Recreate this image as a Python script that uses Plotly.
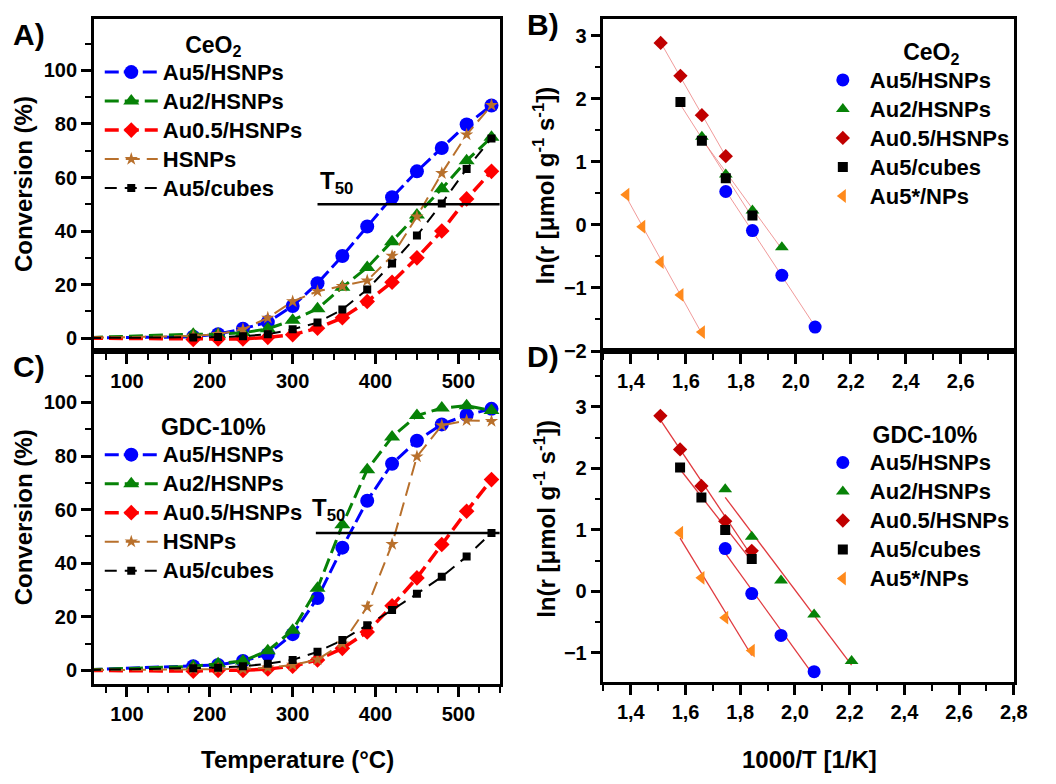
import numpy as np
import plotly.graph_objects as go

W, H = 1056, 784

# ---------------- data ----------------
temps = [30, 180, 210, 240, 270, 300, 330, 360, 390, 420, 450, 480, 510, 540]

au5_ceo2 = [0, 0.5, 1.5, 3.5, 6, 12, 20.5, 30.7, 41.7, 52.6, 62.3, 71, 79.8, 86.9]
au2_ceo2 = [0, 1.5, 1.5, 2, 3.5, 6.7, 11, 19, 26.4, 36, 46, 55.8, 66.3, 75]
au05_ceo2 = [0, -0.5, -0.3, -0.3, 0.3, 1.3, 3.7, 7.6, 13.7, 20.9, 30, 40, 52, 62.3]
hsnps_ceo2 = [0, 0.8, 1.5, 3.3, 7.6, 13.7, 17.5, 19.4, 21.5, 30.7, 45.4, 61.6, 76, 87]
cubes_ceo2 = [0, 0.2, 0.4, 0.7, 1.5, 3.3, 5.8, 10.7, 18.2, 27.9, 38.3, 50.3, 63.2, 74.6]

au5_gdc = [0, 1.5, 2, 3.5, 6, 13.5, 27, 45.8, 63.3, 77.1, 85.7, 91.8, 95.3, 97.6]
au2_gdc = [0, 1.5, 2.5, 3.5, 7.3, 15, 30.6, 54.3, 74.9, 87.1, 95.1, 97.9, 98.8, 97]
au05_gdc = [0, -0.3, 0, 0, 0.5, 1.5, 3.9, 8.2, 14.3, 24.1, 34.5, 47, 59.4, 71.2]
hsnps_gdc = [0, 0.5, 0.5, 0.5, 1, 2, 4, 10, 23.7, 47.1, 79.8, 91.4, 93.3, 93]
cubes_gdc = [0, 0.8, 1, 1.5, 2.5, 3.9, 6.9, 11.3, 16.8, 22.5, 28.6, 34.9, 42.5, 51.3]

t50_level = 50
t50_start_ceo2 = 330
t50_start_gdc = 328
t_end = 550

# Arrhenius data, CeO2 (panel B)
au5_B_x = [1.745, 1.842, 1.949, 2.070]
au5_B_y = [0.53, -0.09, -0.80, -1.62]
au2_B_x = [1.658, 1.745, 1.842, 1.949]
au2_B_y = [1.40, 0.80, 0.23, -0.355]
au05_B_x = [1.508, 1.580, 1.658, 1.745]
au05_B_y = [2.886, 2.364, 1.74, 1.09]
cubes_B_x = [1.580, 1.658, 1.745, 1.842]
cubes_B_y = [1.95, 1.333, 0.74, 0.15]
nps_B_x = [1.383, 1.441, 1.508, 1.580, 1.658]
nps_B_y = [0.48, -0.03, -0.59, -1.11, -1.70]

# Arrhenius data, GDC-10% (panel D)
au5_D_x = [1.745, 1.842, 1.949, 2.070]
au5_D_y = [0.696, -0.037, -0.718, -1.307]
au2_D_x = [1.745, 1.842, 1.949, 2.070, 2.207]
au2_D_y = [1.66, 0.889, 0.177, -0.375, -1.135]
au05_D_x = [1.508, 1.580, 1.658, 1.745, 1.842]
au05_D_y = [2.855, 2.308, 1.714, 1.141, 0.659]
cubes_D_x = [1.580, 1.658, 1.745, 1.842]
cubes_D_y = [2.014, 1.527, 0.996, 0.525]
nps_D_x = [1.580, 1.658, 1.745, 1.842]
nps_D_y = [0.953, 0.22, -0.428, -0.964]

names = ["Au5/HSNPs", "Au2/HSNPs", "Au0.5/HSNPs", "HSNPs", "Au5/cubes"]
names_arr = ["Au5/HSNPs", "Au2/HSNPs", "Au0.5/HSNPs", "Au5/cubes", "Au5*/NPs"]

# ---------------- styling ----------------
FONT = "Liberation Sans, Arial, sans-serif"
BLUE, GREEN, RED, BROWN, BLACK = "#0000ff", "#078207", "#ff0000", "#b8702c", "#000000"
DARKRED, ORANGE = "#c00000", "#ff8a1c"
LEGTXT = 22  # displayed legend text size


def big(s):
    return f"<span style='font-size:{LEGTXT}px'>{s}</span>"


def px_x(p):
    return p / W


def px_y(p):
    return 1 - p / H


fig = go.Figure()

conv_styles = [
    (BLUE, "circle", 14, 3, "14px,5px"),
    (GREEN, "triangle-up", 14, 3, "14px,6px"),
    (RED, "diamond", 12, 3.5, "14px,6px"),
    (BROWN, "star", 10, 2, "14px,7px"),
    (BLACK, "square", 8, 2, "12px,8px"),
]


def add_conv(series, xa, ya, leg):
    for (c, sym, ms, lw, dash), nm, yv in zip(conv_styles, names, series):
        fig.add_trace(go.Scatter(
            x=temps, y=yv, name=big(nm), mode="lines+markers",
            line=dict(color=c, width=lw, dash=dash),
            marker=dict(color=c, symbol=sym, size=ms, line=dict(width=0)),
            xaxis=xa, yaxis=ya, legend=leg))


add_conv([au5_ceo2, au2_ceo2, au05_ceo2, hsnps_ceo2, cubes_ceo2], "x", "y", "legend")
add_conv([au5_gdc, au2_gdc, au05_gdc, hsnps_gdc, cubes_gdc], "x3", "y3", "legend3")

# T50 lines
fig.add_trace(go.Scatter(x=[t50_start_ceo2, t_end], y=[t50_level, t50_level], mode="lines",
                         line=dict(color="black", width=2.5), showlegend=False, xaxis="x", yaxis="y"))
fig.add_trace(go.Scatter(x=[t50_start_gdc, t_end], y=[t50_level + 1.3, t50_level + 1.3], mode="lines",
                         line=dict(color="black", width=2.5), showlegend=False, xaxis="x3", yaxis="y3"))

arr_styles = [
    (BLUE, "circle", 13),
    (GREEN, "triangle-up", 12),
    (DARKRED, "diamond", 11),
    (BLACK, "square", 10),
    (ORANGE, "triangle-left", 12),
]


def add_arr(xs, ys, xa, ya, leg, fitcolor, fitw):
    for x, y in zip(xs, ys):
        k, b = np.polyfit(x, y, 1)
        xx = np.array([min(x), max(x)])
        fig.add_trace(go.Scatter(x=xx, y=k * xx + b, mode="lines",
                                 line=dict(color=fitcolor, width=fitw),
                                 showlegend=False, xaxis=xa, yaxis=ya, hoverinfo="skip"))
    for (c, sym, ms), nm, x, y in zip(arr_styles, names_arr, xs, ys):
        fig.add_trace(go.Scatter(x=x, y=y, name=big(nm), mode="markers",
                                 marker=dict(color=c, symbol=sym, size=ms, line=dict(width=0)),
                                 xaxis=xa, yaxis=ya, legend=leg))


add_arr([au5_B_x, au2_B_x, au05_B_x, cubes_B_x, nps_B_x],
        [au5_B_y, au2_B_y, au05_B_y, cubes_B_y, nps_B_y], "x2", "y2", "legend2",
        "rgba(235,120,120,0.75)", 1)
add_arr([au5_D_x, au2_D_x, au05_D_x, cubes_D_x, nps_D_x],
        [au5_D_y, au2_D_y, au05_D_y, cubes_D_y, nps_D_y], "x4", "y4", "legend4",
        "#e0393e", 1.3)

# ---------------- axes ----------------
tickfont = dict(family=FONT, size=20, color="black", weight="bold")


def ax(domain, rng, dtick, minor_dtick, anchor, fmt=None):
    d = dict(domain=domain, range=rng, dtick=dtick, tick0=0, anchor=anchor,
             ticks="outside", ticklen=10, tickwidth=2.5, tickcolor="black",
             showline=True, linewidth=2.5, linecolor="black", mirror=True,
             showgrid=False, zeroline=False, tickfont=tickfont,
             minor=dict(dtick=minor_dtick, tick0=0, ticks="outside", ticklen=6,
                        tickwidth=2, tickcolor="black", showgrid=False))
    if fmt:
        d["tickformat"] = fmt
    return d


xA = [px_x(95), px_x(506)]
xB = [px_x(611), px_x(1027)]
yTop = [px_y(356), px_y(19)]
yBot = [px_y(694), px_y(356)]

fig.update_layout(
    xaxis=ax(xA, [60, 550], 100, 25, "y"),
    yaxis=ax(yTop, [-4.8, 119.3], 20, 10, "x"),
    xaxis2=ax(xB, [1.3, 2.795], 0.2, 0.1, "y2", ".1f"),
    yaxis2=ax(yTop, [-2, 3.27], 1, 0.5, "x2"),
    xaxis3=ax(xA, [60, 550], 100, 25, "y3"),
    yaxis3=ax(yBot, [-5.2, 119.2], 20, 10, "x3"),
    xaxis4=ax(xB, [1.3, 2.802], 0.2, 0.1, "y4", ".1f"),
    yaxis4=ax([px_y(692), px_y(356)], [-1.48, 3.91], 1, 0.5, "x4"),
)

legfont = dict(family=FONT, size=20, color="black", weight="bold")
legtitlefont = dict(family=FONT, size=23, color="black", weight="bold")
NB = "&nbsp;"


def leg(x, y, title, iw):
    return dict(x=px_x(x), y=px_y(y), xanchor="left", yanchor="top",
                bgcolor="rgba(0,0,0,0)", borderwidth=0, font=legfont,
                title=dict(text=title, side="top center", font=legtitlefont),
                tracegroupgap=0, itemsizing="trace", itemwidth=iw)


fig.update_layout(
    legend=leg(101, 23, NB * 3 + "CeO<sub>2</sub>", 53),
    legend2=leg(826, 31, NB * 5 + "CeO<sub>2</sub>", 44),
    legend3=leg(101, 411, NB * 3 + "GDC-10%", 53),
    legend4=leg(826, 419, NB * 3 + "GDC-10%", 44),
)

# ---------------- annotations ----------------
ann = []


def txt(x, y, s, size, angle=0, xanchor="center"):
    ann.append(dict(x=px_x(x), y=px_y(y), xref="paper", yref="paper", text=s,
                    showarrow=False, textangle=angle, xanchor=xanchor, yanchor="middle",
                    font=dict(family=FONT, size=size, color="black", weight="bold")))


txt(29, 35, "A)", 30)
txt(550, 25, "B)", 30)
txt(29, 372, "C)", 30)
txt(550, 362, "D)", 30)
txt(24, 187, "Conversion (%)", 24, -90)
txt(24, 525, "Conversion (%)", 24, -90)
ylab = "ln(r [μmol g<sup>-1</sup> s<sup>-1</sup>])"
txt(551, 188, ylab, 24, -90)
txt(551, 526, ylab, 24, -90)
txt(301, 770, "Temperature (°C)", 24)
txt(820, 770, "1000/T [1/K]", 24)

for xa, ya, xv, yv in [("x", "y", t50_start_ceo2, 58), ("x3", "y3", 321, 60)]:
    ann.append(dict(x=xv, y=yv, xref=xa, yref=ya, text="T<sub>50</sub>", showarrow=False,
                    xanchor="left", yanchor="middle",
                    font=dict(family=FONT, size=24, color="black", weight="bold")))

fig.update_layout(
    annotations=ann,
    width=W, height=H,
    margin=dict(l=0, r=0, t=0, b=0),
    paper_bgcolor="white", plot_bgcolor="rgba(0,0,0,0)",
    separators=",.",
    font=dict(family=FONT, color="black"),
    showlegend=True,
)

fig.write_html("out.html")
